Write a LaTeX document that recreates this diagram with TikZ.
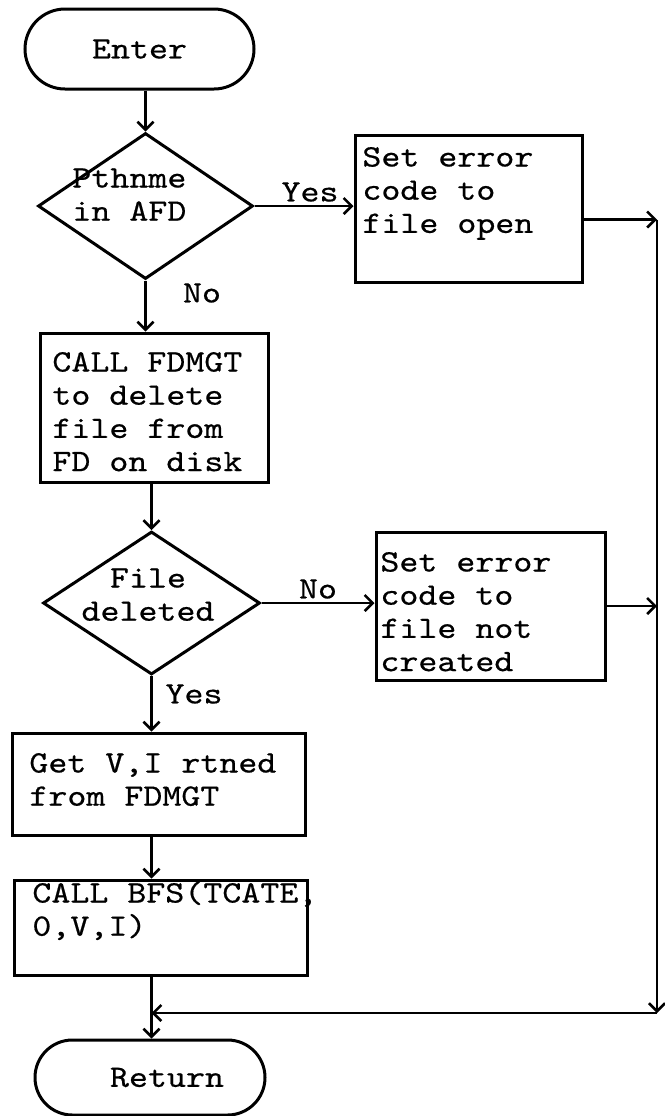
\documentclass[tikz,border=0pt]{standalone}
\usepackage{fontspec}
\usetikzlibrary{shapes.geometric,arrows.meta}
% typewriter face: Latin Modern Mono, widened to a pica-like pitch
\newfontfamily\tw{lmmono10-regular}[Extension=.otf, FakeStretch=1.16, FakeBold=0.5]
\begin{document}
\begin{tikzpicture}[x=0.5pt, y=-0.5pt,
  every node/.style={font=\tw\fontsize{15.6}{16.6}\selectfont},
  term/.style={draw, line width=1.5pt, rectangle, inner sep=0pt},
  decision/.style={draw, line width=1.5pt, diamond, inner sep=0pt},
  procbox/.style={draw, line width=1.5pt, rectangle, inner sep=0pt},
  % multi-line texts are placed by the baseline of their last line
  txt/.style={inner sep=0pt, align=left, anchor=base west},
  lbl/.style={inner sep=0pt},
  arr/.style={line width=1.3pt, -{Straight Barb[length=4pt,width=8pt,line width=1.3pt]}}
]
\useasboundingbox (0,0) rectangle (665,1116);

% start / end terminals
\node[term, minimum width=114.5pt, minimum height=40pt, rounded corners=20pt] (enter) at (139.5,49) {Enter};
\node[term, minimum width=115pt, minimum height=37.5pt, rounded corners=18.7pt] (ret) at (150,1077.5) {\hspace*{17pt}Return};

% decisions
\node[decision, minimum width=107.5pt, minimum height=73pt] (d1) at (145.5,206) {};
\node[txt] (d1t) at (72,220.7) {Pthnme\\in AFD};
\node[decision, minimum width=108.5pt, minimum height=71.5pt] (d2) at (151.5,603) {};
\node[inner sep=0pt, align=center, anchor=base] (d2t) at (148,620.7) {File\\deleted};

% process boxes
\node[procbox, minimum width=113.5pt, minimum height=73.5pt] (b1) at (468.5,208.5) {};
\node[txt] (b1t) at (362,232.9) {Set error\\code to\\file open};

\node[procbox, minimum width=114pt, minimum height=74.5pt] (b2) at (154,407.5) {};
\node[txt] (b2t) at (52,471.1) {CALL FDMGT\\to delete\\file from\\FD on disk};

\node[procbox, minimum width=114.5pt, minimum height=74pt] (b3) at (490.5,606) {};
\node[txt] (b3t) at (380,671.1) {Set error\\code to\\file not\\created};

\node[procbox, minimum width=146.5pt, minimum height=51pt] (b4) at (158.5,784) {};
\node[txt] (b4t) at (29,805.7) {Get V,I rtned\\from FDMGT};

\node[procbox, minimum width=146.5pt, minimum height=47.5pt] (b5) at (160.5,927.5) {};
\node[txt] (b5t) at (32,935.7) {CALL BFS(TCATE,\\0,V,I)};

% branch labels
\node[lbl] (yes1) at (310,192) {Yes};
\node[lbl] (no1) at (202,293) {No};
\node[lbl] (no2) at (318,589) {No};
\node[lbl] (yes2) at (194,694) {Yes};

% return bus on the right
\coordinate (rt) at (657,219.5);
\coordinate (rc) at (657,1013);
\coordinate (jn) at (d2.south |- rc);

% connectors
\draw[arr] (enter.south -| d1.north) -- (d1.north);
\draw[arr] (d1.east) -- (d1.east -| b1.west);
\draw[arr] (d1.south) -- (d1.south |- b2.north);
\draw[arr] (b2.south -| d2.north) -- (d2.north);
\draw[arr] (d2.east) -- (d2.east -| b3.west);
\draw[arr] (d2.south) -- (d2.south |- b4.north);
\draw[arr] (d2.south |- b4.south) -- (d2.south |- b5.north);
\draw[arr] (d2.south |- b5.south) -- (d2.south |- ret.north);

\draw[arr] ([yshift=-5.5pt]b1.east) -- (rt);
\draw[arr] (b3.east) -- (b3.east -| rt);
\draw[arr] (rt) -- (rc);
\draw[arr] (rc) -- (jn);
\end{tikzpicture}
\end{document}
